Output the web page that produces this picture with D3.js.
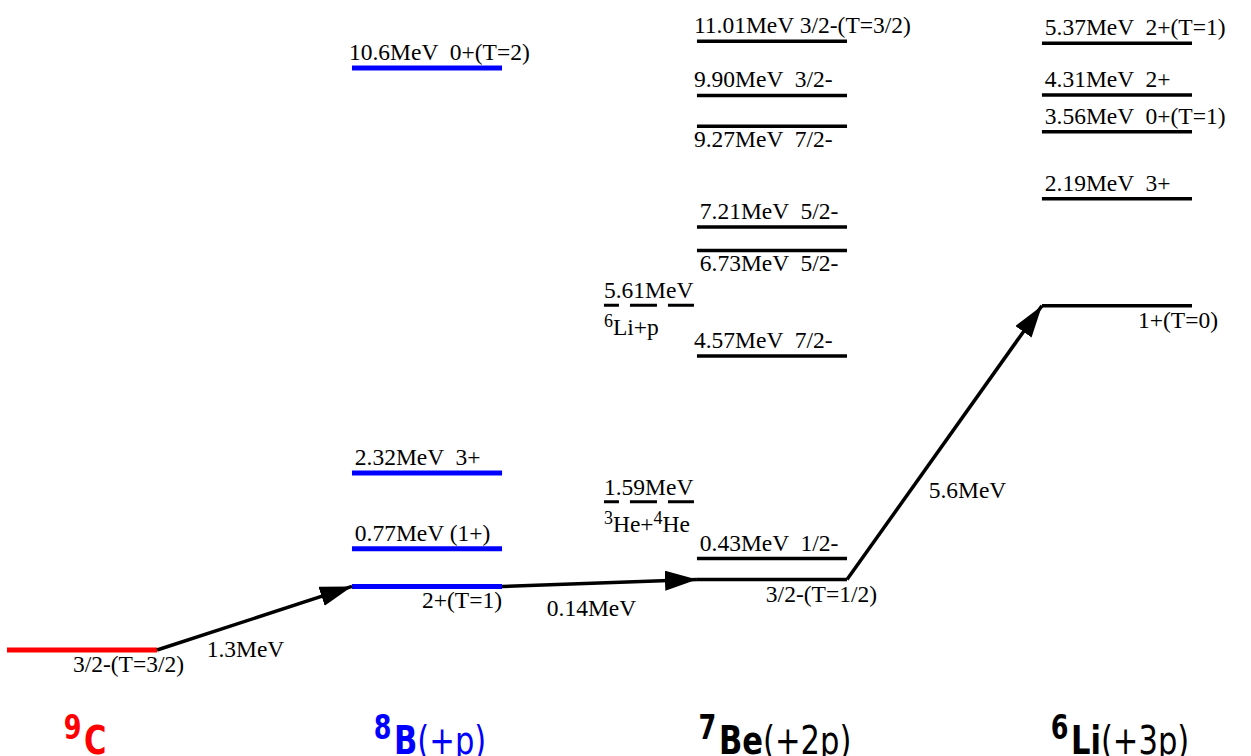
<!DOCTYPE html>
<html>
<head>
<meta charset="utf-8">
<script src="https://cdn.jsdelivr.net/npm/d3@7"></script>
<style>
  body { margin: 0; background: #fff; }
  svg text { font-family: "Liberation Serif", "Times New Roman", serif; font-size: 23.5px; white-space: pre; }
</style>
</head>
<body>
<svg id="chart" width="1251" height="756"></svg>
<script>
// nuclei, left to right
var nuclei = ['9C', '8B', '7Be', '6Li'];
var massNumbers = ['9', '8', '7', '6'];
var symbols = ['C', 'B', 'Be', 'Li'];
var suffixes = ['', '(+p)', '(+2p)', '(+3p)'];
var nucleusColors = ['#f00', '#00f', '#000', '#000'];

// proton separation between neighbouring ground states (MeV)
var steps = ['1.3', '0.14', '5.6'];
var groundSpins = ['3/2-(T=3/2)', '2+(T=1)', '3/2-(T=1/2)', '1+(T=0)'];

// excited levels: [excitation energy in MeV, spin text, lead]
var levels9C = [];
var levels8B = [['0.77', ' (1+)', ' '], ['2.32', '  3+', ' '], ['10.6', '  0+(T=2)', '']];
var levels7Be = [
  ['0.43', '  1/2-', ' '],
  ['4.57', '  7/2-', ''],
  ['6.73', '  5/2-', ' '],
  ['7.21', '  5/2-', ' '],
  ['9.27', '  7/2-', ''],
  ['9.90', '  3/2-', ''],
  ['11.01', ' 3/2-(T=3/2)', '']
];
var levels6Li = [['2.19', '  3+', ' '], ['3.56', '  0+(T=1)', ' '], ['4.31', '  2+', ' '], ['5.37', '  2+(T=1)', ' ']];
var labelsBelow = ['6.73', '9.27'];

// breakup thresholds in 7Be: [energy, [sup, text, sup, text]]
var thresholds7Be = [['1.59', ['3', 'He+', '4', 'He']], ['5.61', ['6', 'Li+p']]];

var allLevels = [levels9C, levels8B, levels7Be, levels6Li];

var svg = d3.select('#chart');

var x = d3.scaleBand()
    .domain(nuclei)
    .range([7, 1192])
    .paddingInner(0.565);

var y = d3.scaleLinear()
    .domain([0, 10])
    .range([650, 161]);

// ground state energies relative to 9C
var ground = [0];
steps.forEach((s, i) => ground.push(ground[i] + parseFloat(s)));

svg.append('defs').append('marker')
    .attr('id', 'head')
    .attr('markerUnits', 'userSpaceOnUse')
    .attr('markerWidth', 32)
    .attr('markerHeight', 20)
    .attr('refX', 32)
    .attr('refY', 10)
    .attr('orient', 'auto')
  .append('path')
    .attr('d', 'M0,0 L32,10 L0,20 Z')
    .attr('fill', '#000');

var gsDx = [27, 0, 30, 26];

// level lines and labels
nuclei.forEach((n, i) => {
  let g = svg.append('g');
  let color = nucleusColors[i];
  let wide = color !== '#000';

  g.append('line')
      .attr('x1', x(n)).attr('x2', x(n) + x.bandwidth())
      .attr('y1', y(ground[i])).attr('y2', y(ground[i]))
      .attr('stroke', color)
      .attr('stroke-width', wide ? 5 : 3.5);

  g.append('text')
      .attr('x', x(n) + x.bandwidth() + gsDx[i])
      .attr('y', y(ground[i]) + 22)
      .attr('text-anchor', 'end')
      .text(groundSpins[i]);

  allLevels[i].forEach((l) => {
    let e = ground[i] + parseFloat(l[0]);
    let below = labelsBelow.indexOf(l[0]) >= 0;

    g.append('line')
        .attr('x1', x(n)).attr('x2', x(n) + x.bandwidth())
        .attr('y1', y(e)).attr('y2', y(e))
        .attr('stroke', color)
        .attr('stroke-width', wide ? 5 : 3.5);

    g.append('text')
        .attr('x', x(n) - 3)
        .attr('y', below ? y(e) + 21 : y(e) - 8)
        .text(l[2] + l[0] + 'MeV' + l[1]);
  });
});

// thresholds
thresholds7Be.forEach((t) => {
  let e = ground[2] + parseFloat(t[0]);
  let x0 = x('7Be') - 93;

  svg.append('line')
      .attr('x1', x0).attr('x2', x('7Be') - 3)
      .attr('y1', y(e)).attr('y2', y(e))
      .attr('stroke', '#000')
      .attr('stroke-width', 3)
      .attr('stroke-dasharray', '27 11')
      .attr('stroke-dashoffset', 12);

  svg.append('text')
      .attr('x', x0)
      .attr('y', y(e) - 7)
      .text(t[0] + 'MeV');

  let label = svg.append('text')
      .attr('x', x0)
      .attr('y', y(e) + 30);

  t[1].forEach((s, k) => {
    let sup = k % 2 === 0;
    label.append('tspan')
        .attr('font-size', sup ? '18px' : '23.5px')
        .attr('dy', sup ? -8 : 8)
        .text(s);
  });
});

// separation arrows
var labelOffset = [[-9, 39], [-8, 33], [23, 55]];

steps.forEach((s, i) => {
  let x1 = x(nuclei[i]) + x.bandwidth(), y1 = y(ground[i]);
  let x2 = x(nuclei[i + 1]), y2 = y(ground[i + 1]);

  svg.append('line')
      .attr('x1', x1).attr('y1', y1)
      .attr('x2', x2).attr('y2', y2)
      .attr('stroke', '#000')
      .attr('stroke-width', 3.5)
      .attr('marker-end', 'url(#head)');

  svg.append('text')
      .attr('x', (x1 + x2) / 2 + labelOffset[i][0])
      .attr('y', (y1 + y2) / 2 + labelOffset[i][1])
      .attr('text-anchor', 'middle')
      .text(s + 'MeV');
});

// nucleus names
nuclei.forEach((n, i) => {
  let t = svg.append('text')
      .attr('transform', `translate(${ x(n) + x.bandwidth() / 2 + 3 }, 754) scale(0.85, 1.1)`)
      .attr('text-anchor', 'middle')
      .attr('fill', nucleusColors[i])
      .style('font-family', '"DejaVu Sans", Verdana, sans-serif')
      .style('font-size', '36px');

  t.append('tspan')
      .attr('font-weight', 'bold')
      .attr('font-size', '30px')
      .attr('dy', -13.5)
      .text(massNumbers[i]);

  t.append('tspan')
      .attr('font-weight', 'bold')
      .attr('dx', 3)
      .attr('dy', 13.5)
      .text(symbols[i]);

  t.append('tspan')
      .text(suffixes[i]);
});
</script>
</body>
</html>
